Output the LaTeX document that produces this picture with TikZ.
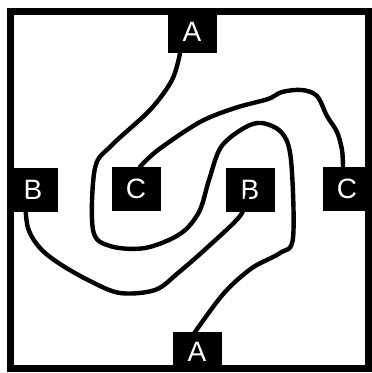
\documentclass[tikz,border=0pt]{standalone}
\usepackage{fontspec}
\setsansfont{Liberation Sans}
\usepackage{tikz}
\usetikzlibrary{positioning}
\tikzset{
  frame/.style={draw=black, line width=7pt},
  tile/.style={rectangle, fill=black, text=white, inner sep=0pt, minimum width=49pt, minimum height=44pt, font=\sffamily\fontsize{28}{28}\selectfont},
  wire/.style={draw=black, line width=4.4pt, line cap=round, line join=round},
}
\begin{document}
\begin{tikzpicture}[x=1pt, y=-1pt]
  \useasboundingbox (0,0) rectangle (372,373);
  \draw[frame] (10.5,11.5) rectangle (368.5,368.5);

  \node[tile, minimum height=42pt] (topA) at (192,32) {A};
  \node[tile, minimum width=50pt] (leftB) at (33,190) {B};
  \node[tile] (innerC) at (136,189) {C};
  \node[tile] (innerB) at (250,190) {B};
  \node[tile] (rightC) at (347,189) {C};
  \node[tile, minimum height=40pt] (bottomA) at (197,352) {A};

  \draw[wire] plot[smooth, tension=0.55] coordinates {([xshift=-12pt]topA.south) (172,80) (150,110) (112,145) (95,168) (93,230) (110,246) (145,248) (180,234) (199,212) (209,180) (221,147) (244,128) (262,123) (282,133) (291,160) (293,238) (280,253) (252,268) (225,292) (200,325) ([xshift=-14pt,yshift=2pt]bottomA.center)};
  \draw[wire] plot[smooth, tension=0.55] coordinates {([xshift=4pt]innerC.north) (158,150) (200,122) (235,108) (268,99) (282,92) (302,90) (317,96) (327,116) (337,132) (342,150) ([xshift=-4pt]rightC.north)};
  \draw[wire] plot[smooth, tension=0.55] coordinates {([xshift=-3pt,yshift=-7pt]innerB.center) (240,216) (210,245) (178,273) (155,290) (120,293) (90,281) (60,264) (40,248) (28,228) ([xshift=-8pt,yshift=-10pt]leftB.center)};
\end{tikzpicture}
\end{document}
